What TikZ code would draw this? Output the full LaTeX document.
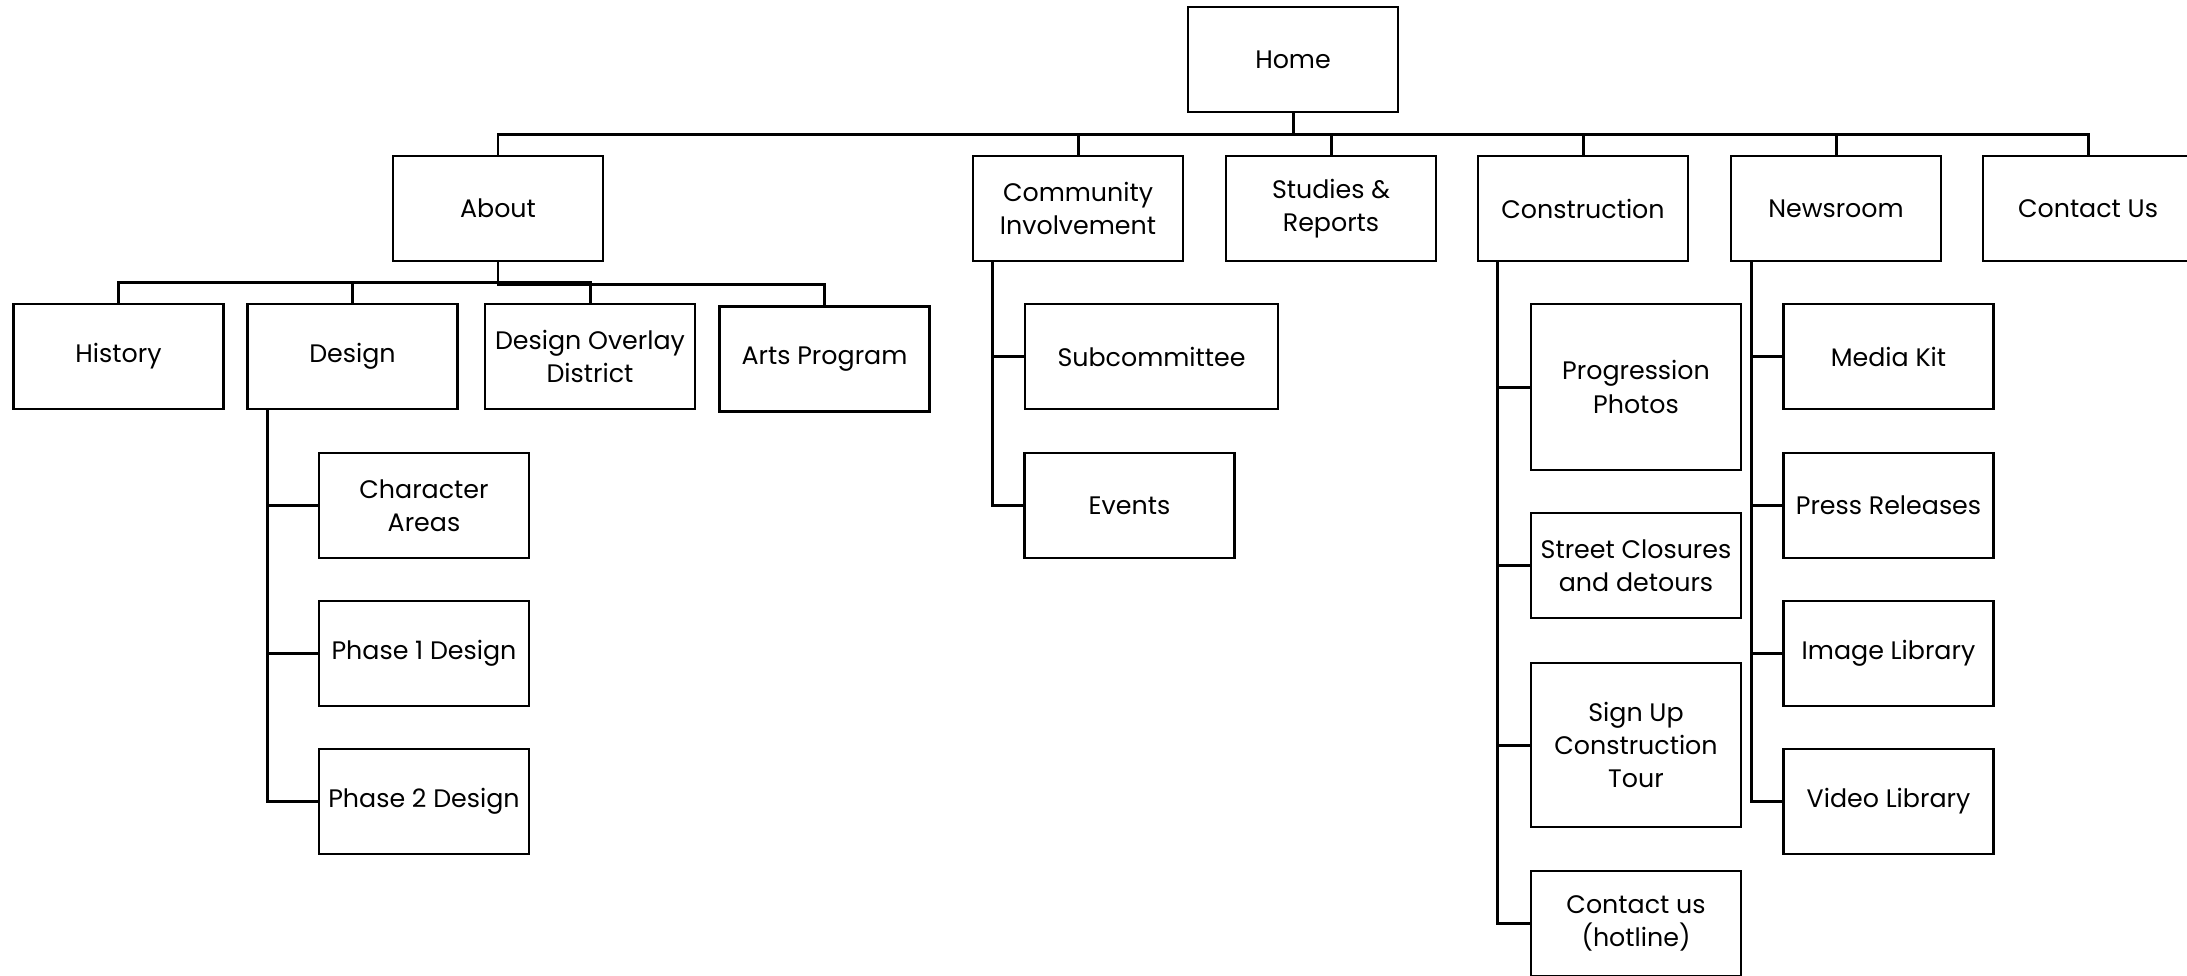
\documentclass[tikz,border=0pt]{standalone}
\usepackage{fontspec}
\setmainfont{Poppins}

\tikzset{
	sitebox/.style = {draw, line width = 0.7pt, minimum width = 2.1cm, minimum height = 1.05cm,
		align = center, inner sep = 1pt, font = \fontsize{7.2}{9.5}\selectfont},
	link/.style = {line width = 0.85pt}
}

\begin{document}
\begin{tikzpicture}[x = 0.01cm, y = -0.01cm]

	\useasboundingbox (0, 0) rectangle (2187, 975);

	% Top level

	\node [sitebox] (home) at (1293, 59.5) {Home};

	% Main sections

	\node [sitebox] (about) at (498, 208.5) {About};
	\node [sitebox] (community) at (1078, 208.5) {Community\\Involvement};
	\node [sitebox] (studies) at (1331, 208.5) {Studies \&\\Reports};
	\node [sitebox] (construction) at (1583, 208.5) {Construction};
	\node [sitebox] (newsroom) at (1836, 208.5) {Newsroom};
	\node [sitebox] (contact) at (2088, 208.5) {Contact Us};

	% About pages

	\node [sitebox] (history) at (118.5, 356.5) {History};
	\node [sitebox] (design) at (352.5, 356.5) {Design};
	\node [sitebox] (overlay) at (590, 356.5) {Design Overlay\\District};
	\node [sitebox] (arts) at (824.5, 359) {Arts Program};

	\node [sitebox] (charareas) at (424, 505.5) {Character\\Areas};
	\node [sitebox] (phaseone) at (424, 653.5) {Phase 1 Design};
	\node [sitebox] (phasetwo) at (424, 801.5) {Phase 2 Design};

	% Community pages

	\node [sitebox, minimum width = 2.53cm] (subcommittee) at (1151.5, 356.5) {Subcommittee};
	\node [sitebox] (events) at (1129.5, 505.5) {Events};

	% Construction pages

	\node [sitebox, minimum height = 1.66cm] (photos) at (1636, 387) {Progression\\Photos};
	\node [sitebox] (closures) at (1636, 565.5) {Street Closures\\and detours};
	\node [sitebox, minimum height = 1.64cm] (tour) at (1636, 745) {Sign Up\\Construction\\Tour};
	\node [sitebox] (hotline) at (1636, 923.5) {Contact us\\(hotline)};

	% Newsroom pages

	\node [sitebox] (mediakit) at (1888.5, 356.5) {Media Kit};
	\node [sitebox] (press) at (1888.5, 505.5) {Press Releases};
	\node [sitebox] (images) at (1888.5, 653.5) {Image Library};
	\node [sitebox] (videos) at (1888.5, 801.5) {Video Library};

	% Main bus

	\coordinate (bus) at (1293, 134);
	\draw [link] (home) -- (bus);
	\draw [link] (about.north) -- (about.north |- bus) -- (contact.north |- bus) -- (contact.north);
	\foreach \sect in {community, studies, construction, newsroom}
		\draw [link] (\sect.north) -- (\sect.north |- bus);

	% About bus

	\coordinate (aboutbus) at (498, 282.5);
	\coordinate (artsbus) at (498, 284.5);
	\draw [link] (about.south) -- (artsbus) -| (arts.north);
	\draw [link] (history.north) -- (history.north |- aboutbus) -- (overlay.north |- aboutbus) -- (overlay.north);
	\draw [link] (design.north) -- (design.north |- aboutbus);

	% Side branches

	\foreach \child in {charareas, phaseone, phasetwo}
		\draw [link] ([xshift = 0.21cm] design.south west) |- (\child.west);

	\foreach \child in {subcommittee, events}
		\draw [link] ([xshift = 0.21cm] community.south west) |- (\child.west);

	\foreach \child in {photos, closures, tour, hotline}
		\draw [link] ([xshift = 0.21cm] construction.south west) |- (\child.west);

	\foreach \child in {mediakit, press, images, videos}
		\draw [link] ([xshift = 0.22cm] newsroom.south west) |- (\child.west);

\end{tikzpicture}
\end{document}
